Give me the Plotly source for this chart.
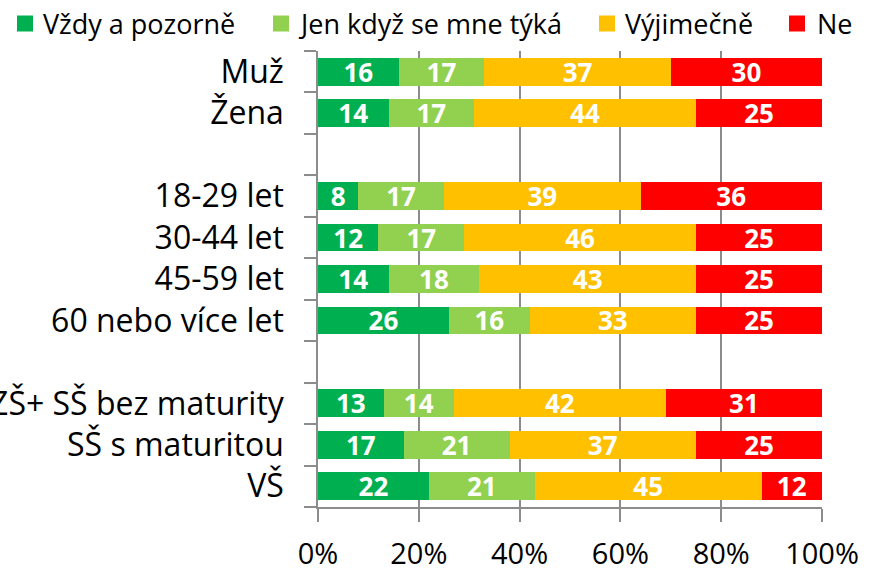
import plotly.graph_objects as go

categories = ["Muž", "Žena", " ", "18-29 let", "30-44 let", "45-59 let",
              "60 nebo více let", "  ", "ZŠ+ SŠ bez maturity", "SŠ s maturitou", "VŠ"]
series_names = ["Vždy a pozorně", "Jen když se mne týká", "Výjimečně", "Ne"]
vzdy = [16, 14, None, 8, 12, 14, 26, None, 13, 17, 22]
jen_kdyz = [17, 17, None, 17, 17, 18, 16, None, 14, 21, 21]
vyjimecne = [37, 44, None, 39, 46, 43, 33, None, 42, 37, 45]
ne = [30, 25, None, 36, 25, 25, 25, None, 31, 25, 12]
colors = ["#00B050", "#92D050", "#FFC000", "#FF0000"]
x_ticks = [0, 20, 40, 60, 80, 100]
x_tick_labels = ["0%", "20%", "40%", "60%", "80%", "100%"]

FONT = "Open Sans"
W, H = 874, 571
ML, MR, MT, MB = 318, 52, 51, 64
PW, PH = W - ML - MR, H - MT - MB


def px_x(px):
    return (px - ML) / PW


def px_y(py):
    return (H - MB - py) / PH


fig = go.Figure()
for name, vals, col in zip(series_names, [vzdy, jen_kdyz, vyjimecne, ne], colors):
    fig.add_trace(go.Bar(
        y=categories, x=vals, name=name, orientation="h",
        marker=dict(color=col, line=dict(width=0)),
        text=[("" if v is None else str(v)) for v in vals],
        textposition="inside", insidetextanchor="middle", textangle=0,
        constraintext="none",
        textfont=dict(color="white", size=26, family=FONT, weight="bold"),
        hoverinfo="skip", showlegend=False,
    ))

# manual legend (one row across the top)
legend_sq_left = [17, 273, 599, 789]
legend_text_left = [43, 298, 625, 817]
legend_cy = 23.5
for name, col, sq, tx in zip(series_names, colors, legend_sq_left, legend_text_left):
    fig.add_shape(type="rect", xref="paper", yref="paper",
                  x0=px_x(sq), x1=px_x(sq + 16),
                  y0=px_y(legend_cy + 8), y1=px_y(legend_cy - 8),
                  fillcolor=col, line=dict(width=0), layer="above")
    fig.add_annotation(text=name, xref="paper", yref="paper",
                       x=px_x(tx), y=px_y(legend_cy), xanchor="left", yanchor="middle",
                       showarrow=False, font=dict(size=27, family=FONT, color="black"),
                       xshift=-2)

fig.update_layout(
    barmode="stack", bargap=0.33,
    width=W, height=H,
    margin=dict(l=ML, r=MR, t=MT, b=MB, autoexpand=False),
    paper_bgcolor="white", plot_bgcolor="white",
    font=dict(family=FONT, size=26, color="black"),
    showlegend=False,
)
fig.update_xaxes(range=[0, 100], tickvals=x_ticks, ticktext=x_tick_labels,
                 showgrid=True, gridcolor="#8C8C8C", gridwidth=1.5,
                 showline=True, linecolor="#8C8C8C", linewidth=1.5,
                 ticks="outside", ticklen=13, tickcolor="#8C8C8C", tickwidth=1.5,
                 tickfont=dict(size=29, family=FONT), ticklabelstandoff=7,
                 zeroline=False, fixedrange=True, automargin=False)
fig.update_yaxes(type="category", categoryorder="array", categoryarray=categories,
                 tickmode="array", tickvals=categories,
                 autorange="reversed", tickson="boundaries",
                 showline=True, linecolor="#8C8C8C", linewidth=1.5,
                 ticks="outside", ticklen=12, tickcolor="#8C8C8C", tickwidth=1.5,
                 tickfont=dict(size=32, family=FONT), ticklabelstandoff=26,
                 automargin=False, showgrid=False, fixedrange=True)

fig.write_html("out.html", config={"displayModeBar": False},
               post_script="document.body.style.margin='0';")
